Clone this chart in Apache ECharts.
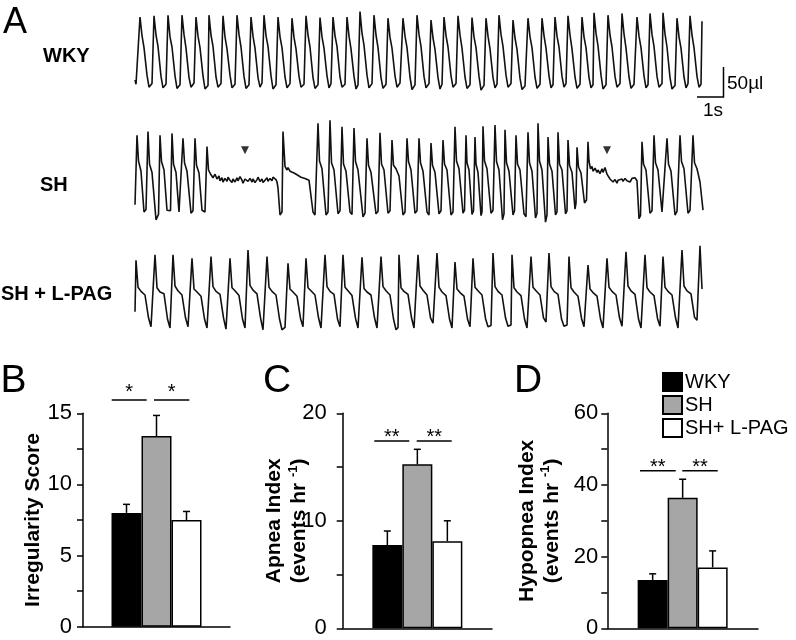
<!DOCTYPE html>
<html><head><meta charset="utf-8">
<script src="https://cdn.jsdelivr.net/npm/echarts@6.0.0/dist/echarts.min.js"></script>
<style>html,body{margin:0;padding:0;background:#fff}#c{width:796px;height:640px}</style>
</head><body><div id="c"></div>
<script>
// ---------------- DATA ----------------
// Panel A: airflow traces, [sample index (~26.5 samples/s), volume (µl, relative)]
const FS = 26.5;
const wkyTrace = [[0,10],[1,3],
[5,115],[7,84],[9,64],[12,18],[14,-2],[17,4],
[19,117],[21,85],[23,66],[26,16],[28,-3],[31,3],
[33,118],[35,82],[37,65],[40,17],[42,-4],[45,2],
[47,118],[49,86],[51,63],[54,14],[56,-2],[59,5],
[61,115],[63,83],[65,64],[68,17],[70,-5],[73,1],
[74,118],[76,85],[78,66],[81,15],[83,-2],[86,4],
[88,117],[90,82],[92,62],[95,18],[97,-3],[100,3],
[102,118],[104,86],[106,65],[109,16],[111,-4],[114,2],
[116,115],[118,83],[120,63],[123,14],[125,-2],[127,5],
[129,118],[131,84],[133,66],[136,17],[138,-5],[141,2],
[143,115],[145,82],[147,64],[150,15],[152,-3],[155,4],
[157,113],[159,81],[161,62],[164,16],[166,-2],[169,3],
[171,117],[173,85],[175,65],[178,14],[180,-4],[183,2],
[185,114],[187,82],[189,63],[192,17],[194,-3],[196,4],
[198,115],[200,84],[202,66],[205,15],[207,-2],[210,3],
[212,115],[214,83],[216,62],[219,16],[221,-5],[223,2],
[225,124],[227,88],[229,68],[232,18],[234,-3],[237,4],
[239,118],[241,85],[243,64],[246,14],[248,-4],[251,3],
[253,113],[255,81],[257,63],[260,17],[262,-2],[265,5],
[268,113],[270,83],[272,64],[275,15],[277,-6],[280,2],
[282,118],[284,86],[286,66],[289,16],[291,-3],[294,4],
[296,110],[298,80],[300,61],[303,14],[305,-5],[307,3],
[309,115],[311,84],[313,65],[316,17],[318,-2],[321,4],
[323,117],[325,85],[327,63],[330,15],[332,-4],[335,2],
[337,114],[339,82],[341,64],[344,16],[346,-7],[349,1],
[351,113],[353,83],[355,62],[358,14],[360,-3],[362,3],
[364,118],[366,86],[368,66],[371,18],[373,-2],[376,4],
[378,110],[380,80],[382,61],[385,13],[387,-6],[390,0],
[393,113],[395,82],[397,64],[400,15],[402,-4],[405,3],
[407,113],[409,84],[411,63],[414,17],[416,-3],[418,2],
[420,115],[422,83],[424,65],[427,16],[429,-2],[431,4],
[433,117],[435,85],[437,62],[440,15],[442,-4],[445,3],
[447,115],[449,82],[451,64],[454,14],[456,-3],[458,2],
[459,122],[461,88],[463,67],[466,18],[468,-5],[471,2],
[473,118],[475,85],[477,65],[480,16],[482,-2],[485,4],
[487,121],[489,87],[491,63],[494,15],[496,-4],[499,3],
[502,115],[504,83],[506,64],[509,17],[511,-3],[513,2],
[515,121],[517,86],[519,66],[522,16],[524,-2],[527,4],
[528,122],[530,87],[532,65],[535,14],[537,-5],[540,1],
[542,113],[544,82],[546,63],[549,15],[551,-3],[553,4],
[555,117],[557,85],[559,64],[562,16],[564,-2],[566,3],[567,108]];

const shTrace = [[0,12],
[2,128],[3.5,85],[6,68],[9,0],[11,4],
[13,134],[14.5,80],[17,66],[21,-13],[23.5,-4],
[25,128],[26.5,84],[29,70],[32,3],[35.5,2],
[37,131],[38.5,80],[41,66],[44,0],[46,-3],
[48,123],[49.5,82],[52,68],[56,-2],[58,2],
[60,123],[61.5,78],[64,65],[67,3],[70,0],
[72,109],[73.5,70],[76,62],[78,57],[80,63],
[82,55],[84,60],[85,52],[87,57],[88,50],[90,56],[92,51],[93,58],[95,53],[97,49],[98,55],[100,50],
[102,57],[103,52],[105,59],[107,53],[108,48],[110,55],[112,58],[113,51],[115,56],[117,50],[118,55],
[120,49],[122,54],[123,58],[125,51],[127,55],[128,49],[130,53],[132,57],[133,51],[135,56],[137,52],
[138,58],[140,60],[141,54],[142,50],[143,40],[145,-5],[147,0],
[148,134],[150,76],[152,70],[153,74],[155,68],[157,71],[159,65],[160,68],[162,62],[164,64],[166,58],
[168,61],[170,56],[172,58],[174,53],[176,55],[178,0],[180,-5],[182,-2],
[183,148],[184.5,85],[187,72],[191,-5],[193,0],
[195,153],[196.5,82],[199,70],[203,-3],[205,2],
[207,142],[208.5,80],[211,68],[215,0],[217,-4],
[219,140],[220.5,84],[223,70],[228,-8],[230,-2],
[232,123],[233.5,78],[236,66],[241,-3],[243,1],
[245,132],[246.5,80],[249,70],[253,-2],[255,2],
[257,120],[258.5,78],[261,72],[264,60],[268,-5],[270,0],
[272,123],[273.5,84],[276,70],[280,-2],[282,2],
[284,123],[285.5,82],[288,68],[292,0],[294,-5],
[296,115],[297.5,78],[300,66],[304,-3],[306,2],
[308,120],[309.5,80],[312,70],[316,-5],[318,0],
[320,142],[321.5,85],[324,72],[328,-2],[329.5,3],
[331,128],[332,82],[334,70],[337,-4],[338.5,2],
[340,125],[341,80],[343,66],[346,-6],[347,0],
[348,143],[349.5,85],[352,72],[356,-2],[358,3],
[360,145],[361.5,84],[364,70],[367.5,-13],[369,-3],
[370,137],[371.5,82],[374,68],[378,-5],[379.5,2],
[381,128],[382.5,80],[385,70],[389,-3],[391,-8],
[393,133],[394.5,82],[397,68],[400.5,-10],[402,-2],
[403,148],[404.5,85],[407,70],[410.5,-17],[412,-5],
[413,125],[414.5,80],[417,68],[420.5,-5],[422,0],
[423,133],[424.5,80],[427,70],[430.5,-3],[432,2],
[433,120],[434.5,78],[437,66],[440,5],[441,15],
[442,108],[443.5,75],[446,65],[449.5,15],[451.5,20],
[453,117],[454,85],
[455.5,72],[457,76],[458,68],[460,73],[462,66],[463,70],[465,64],[467,72],[468,66],[470,74],[472,63],
[473,60],[475,55],[477,58],[478,50],[480,54],[482,48],[483,53],[485,50],[487,55],[488,51],[490,56],
[492,52],[493,55],[495,50],[497,56],[498,53],[500,57],[502,52],[504,-11],[505.5,-6],
[507,117],[508.5,80],[511,70],[515,-2],[517,2],
[519,128],[520.5,82],[523,70],[527,0],[529,-3],
[532,123],[533.5,80],[536,68],[540,-5],[542,1],
[545,128],[546.5,84],[549,72],[553,-2],[555,3],
[558,128],[559.5,82],[562,72],[565,50],[568,3]];

const lpagTrace = [[0,22],
[1,108],[3,63],[6,56],[10,50],[13.5,12],[16,-3],[18,-2],
[20,117],[22,62],[25,55],[29,52],[32.5,10],[35,-5],[37,-3],
[38,117],[40,65],[43,57],[47,50],[50.5,12],[53,-3],[55,-2],
[57,111],[59,60],[62,55],[66,48],[69.5,10],[72,-5],[74,-3],
[76,114],[78,64],[81,56],[85,51],[88.5,12],[91,-7],[93,-4],
[95,111],[97,62],[100,57],[104,49],[107.5,10],[110,-5],[112,-2],
[113,125],[115,66],[118,58],[122,52],[125.5,12],[128,-8],[130,-5],
[132,114],[134,63],[137,56],[141,50],[144.5,10],[147,-8],[150,-4],
[153,103],[155,60],[158,55],[162,48],[165.5,11],[168,-3],[170,-1],
[171,111],[173,62],[176,57],[180,50],[183.5,12],[186,-5],[188,-3],
[190,117],[192,64],[195,56],[199,51],[202.5,10],[205,-3],[207,-1],
[208,117],[210,63],[213,57],[217,49],[220.5,11],[223,-5],[225,-3],
[227,113],[229,61],[232,55],[236,50],[239.5,12],[242,-5],[244,-2],
[246,114],[248,64],[251,57],[255,50],[258.5,10],[261,-8],[263,-4],
[264,117],[266,62],[269,56],[273,51],[276.5,12],[279,-5],[281,-2],
[283,117],[285,65],[288,58],[292,50],[295.5,12],[298,3],[300,4],
[302,120],[304,63],[307,55],[311,49],[314.5,10],[317,-5],[319,-3],
[320,105],[322,60],[325,54],[329,48],[332.5,10],[335,-3],[337,-1],
[338,111],[340,63],[343,57],[347,50],[350.5,11],[353,-3],[356,-1],
[358,120],[360,64],[363,56],[367,50],[370.5,12],[373,-2],[376,0],
[377,117],[379,62],[382,55],[386,49],[389.5,10],[392,-5],[394,-2],
[396,114],[398,63],[401,57],[405,50],[408.5,12],[411,5],[413,4],
[414,120],[416,64],[419,56],[423,51],[426.5,10],[429,-2],[432,0],
[434,114],[436,62],[439,55],[443,48],[446.5,11],[449,-3],[451,-1],
[453,100],[455,60],[458,54],[462,48],[465.5,10],[468,-5],[470,-3],
[472,111],[474,63],[477,56],[481,50],[484.5,12],[487,-2],[489,0],
[491,122],[493,65],[496,57],[500,51],[503.5,10],[506,-5],[508,-2],
[510,117],[512,62],[515,55],[519,49],[522.5,11],[525,-2],[527,0],
[528,114],[530,63],[533,56],[537,50],[540.5,12],[543,-5],[545,-3],
[547,125],[549,65],[552,57],[556,52],[559.5,13],[562,8],[564,9],
[565,132],[567,60]];

const apneaMarkT = [110, 472];      // apnea events marked with arrowheads (samples)
const apneaMarkV = 103;             // marker level (µl)

// Panels B-D
const groups = ['WKY', 'SH', 'SH+ L-PAG'];
const irregMean = [8.0, 13.4, 7.5];
const irregErr  = [0.6, 1.45, 0.6];
const apneaMean = [7.75, 15.25, 8.1];
const apneaErr  = [1.3, 1.4, 1.9];
const hypoMean  = [13.5, 36.4, 17.0];
const hypoErr   = [1.7, 5.2, 4.6];
const irregTicks = [0, 5, 10, 15];
const apneaTicks = [0, 10, 20];
const hypoTicks  = [0, 20, 40, 60];

// ---------------- STYLE / LAYOUT ----------------
const FONT = "'Liberation Sans', Arial, Helvetica, sans-serif";
const PX_PER_UL = 0.6;
const barColors = ['#000000', '#a6a6a6', '#ffffff'];
const BAR_W = 30, CAP = 3.5;

const traceGrids = [
  {left:135, top:0,   width:595, height:110, zeroY:86,  data: wkyTrace},
  {left:135, top:112, width:595, height:118, zeroY:212, data: shTrace},
  {left:135, top:235, width:595, height:105, zeroY:325, data: lpagTrace}
];
const barPanels = [
  {left:83,    top:413.3, width:147,   height:213.4, max:15, interval:2.5, ticks:irregTicks, margin:11, nameGap:37,
   name:'Irregularity Score', mean:irregMean, err:irregErr},
  {left:342.7, top:413.3, width:149.3, height:215,   max:20, interval:5,   ticks:apneaTicks, margin:16, nameGap:31,
   name:'Apnea Index\n(events hr {sup|-1})', mean:apneaMean, err:apneaErr},
  {left:607.3, top:413.3, width:150.7, height:215,   max:60, interval:10,  ticks:hypoTicks,  margin:9,  nameGap:43,
   name:'Hypopnea Index\n(events hr {sup|-1})', mean:hypoMean, err:hypoErr}
];

const grid = [], xAxis = [], yAxis = [], series = [];
traceGrids.forEach((g, i) => {
  grid.push({left:g.left, top:g.top, width:g.width, height:g.height});
  xAxis.push({type:'value', gridIndex:i, min:0, max:g.width, show:false});
  yAxis.push({type:'value', gridIndex:i, show:false,
    min: -(g.top + g.height - g.zeroY) / PX_PER_UL, max: (g.zeroY - g.top) / PX_PER_UL});
  series.push({type:'line', xAxisIndex:i, yAxisIndex:i, data:g.data, showSymbol:false, symbol:'none',
    lineStyle:{color:'#111', width:1.6}, silent:true, z:2});
});
series.push({type:'scatter', xAxisIndex:1, yAxisIndex:1, symbol:'triangle', symbolRotate:180, symbolSize:[8,8],
  itemStyle:{color:'#000'}, data: apneaMarkT.map(t => [t, apneaMarkV]), silent:true});

barPanels.forEach((p, k) => {
  const gi = 3 + k;
  grid.push({left:p.left, top:p.top, width:p.width, height:p.height});
  xAxis.push({type:'category', gridIndex:gi, data:[''], axisLine:{show:true, lineStyle:{color:'#000', width:1.5}},
    axisTick:{show:false}, axisLabel:{show:false}, splitLine:{show:false}});
  yAxis.push({type:'value', gridIndex:gi, min:0, max:p.max, interval:p.interval,
    axisLine:{show:true, lineStyle:{color:'#000', width:1.5}},
    axisTick:{show:true, length:6, lineStyle:{color:'#000', width:1.5}},
    splitLine:{show:false},
    axisLabel:{margin:p.margin, fontSize:22, fontFamily:FONT, color:'#000',
      formatter: v => p.ticks.indexOf(v) >= 0 ? String(v) : ''},
    name:p.name, nameLocation:'middle', nameRotate:90, nameGap:p.nameGap, nameMoveOverlap:false,
    nameTextStyle:{fontSize:21, fontWeight:'bold', fontFamily:FONT, color:'#000', lineHeight:25, align:'center',
      rich:{sup:{fontSize:13, fontWeight:'bold', fontFamily:FONT, color:'#000', verticalAlign:'top', lineHeight:16}}}
  });
  groups.forEach((name, j) => {
    series.push({type:'bar', name, xAxisIndex:gi, yAxisIndex:gi, data:[p.mean[j]], barWidth:BAR_W, barGap:'0%',
      itemStyle:{color:barColors[j], borderColor:'#000', borderWidth:1.5}, silent:true, z:3});
  });
  series.push({type:'custom', xAxisIndex:gi, yAxisIndex:gi, silent:true, z:4,
    data: p.mean.map((m, j) => [0, m, p.err[j], j]), encode:{x:0, y:1},
    renderItem: (params, api) => {
      const m = api.value(1), e = api.value(2), j = api.value(3);
      const b = api.coord([0, m]), t = api.coord([0, m + e]);
      const x = b[0] + (j - 1) * BAR_W;
      const st = {stroke:'#000', lineWidth:1.5};
      return {type:'group', children:[
        {type:'line', shape:{x1:x, y1:b[1], x2:x, y2:t[1]}, style:st},
        {type:'line', shape:{x1:x - CAP, y1:t[1], x2:x + CAP, y2:t[1]}, style:st}
      ]};
    }});
});

// annotations (style positions)
const sigs = [
  {y:400, starY:387.5, segs:[[111.7,146.7],[154,189.3]], label:'*'},
  {y:441, starY:433.3, segs:[[374.3,409.3],[416.7,451.7]], label:'**'},
  {y:470.7, starY:462.7, segs:[[640,675.7],[682.3,717.7]], label:'**'}
];
const graphic = [];
const txt = (text, x, y, size, weight, align) => ({type:'text', x, y, silent:true,
  style:{text, fontSize:size, fontWeight:weight || 'normal', fontFamily:FONT, fill:'#000',
    align: align || 'left', verticalAlign:'middle'}});
graphic.push(txt('A', 3, 23, 36));
graphic.push(txt('B', 0.5, 381, 39));
graphic.push(txt('C', 263, 381, 39));
graphic.push(txt('D', 514, 381, 39));
graphic.push(txt('WKY', 43, 56.5, 20, 'bold'));
graphic.push(txt('SH', 40, 185, 20, 'bold'));
graphic.push(txt('SH + L-PAG', 1, 294, 20, 'bold'));
// scale bar: 1 s and 50 µl
const sbX = 723.5, sbY = 97;
graphic.push({type:'polyline', silent:true, shape:{points:[[sbX - FS * 1, sbY], [sbX, sbY], [sbX, sbY - 50 * PX_PER_UL]]},
  style:{stroke:'#000', lineWidth:1.5, fill:null}});
graphic.push(txt('50µl', 727, 84, 19));
graphic.push(txt('1s', 713, 111, 19, 'normal', 'center'));
sigs.forEach(s => {
  s.segs.forEach(seg => {
    graphic.push({type:'line', silent:true, shape:{x1:seg[0], y1:s.y, x2:seg[1], y2:s.y}, style:{stroke:'#000', lineWidth:1.5}});
    graphic.push(txt(s.label, (seg[0] + seg[1]) / 2, s.starY + 4.5, 20, 'normal', 'center'));
  });
});

const chart = echarts.init(document.getElementById('c'), null, {renderer:'canvas'});
chart.setOption({
  backgroundColor:'#fff', animation:false,
  grid, xAxis, yAxis, series, graphic,
  legend:{data:groups, left:662, top:372, orient:'vertical', itemWidth:19, itemHeight:18, itemGap:3, icon:'rect',
    selectedMode:false, padding:0, textStyle:{fontSize:20, fontFamily:FONT, color:'#000', padding:[0,0,0,-2]}}
});
</script></body></html>
